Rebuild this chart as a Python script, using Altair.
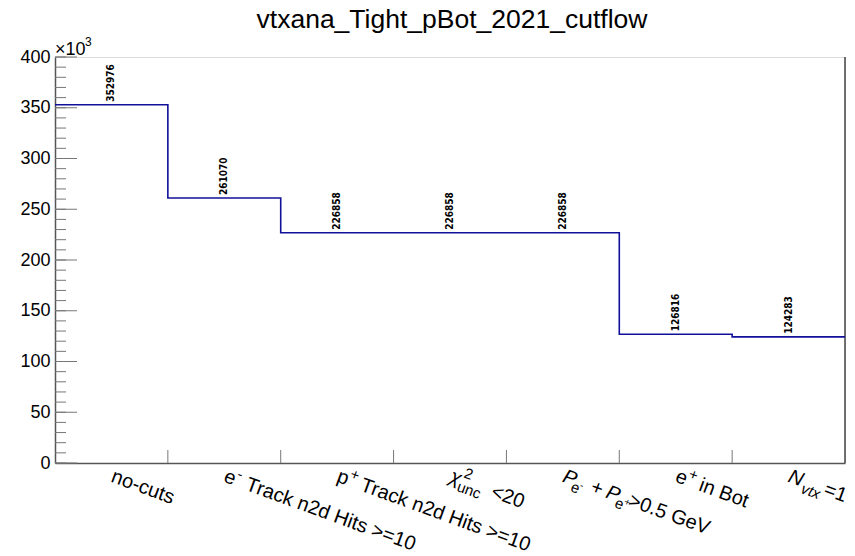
import altair as alt
import pandas as pd

# ---- data ----
categories = ["no-cuts", "e- Track n2d Hits >=10", "p+ Track n2d Hits >=10",
              "chi2_unc<20", "P_e- + P_e+>0.5 GeV", "e+ in Bot", "N_vtx=1"]
counts = [352976, 261070, 226858, 226858, 226858, 126816, 124283]
y_tick_values = list(range(0, 400001, 50000))
y_minor_values = list(range(0, 400001, 10000))
title_text = "vtxana_Tight_pBot_2021_cutflow"

W, H = 790, 406
FONT = "Liberation Sans"
F, S, T = 20, 15, 10

xscale = alt.Scale(domain=[0, len(categories)], nice=False, zero=False)
yscale = alt.Scale(domain=[0, 400000], nice=False)

# step-line points at bin edges
edges = list(range(len(categories) + 1))
step_df = pd.DataFrame({"edge": edges, "count": counts + [counts[-1]]})
center_df = pd.DataFrame({"c": [i + 0.5 for i in range(len(categories))],
                          "count": counts})

step = alt.Chart(step_df).mark_line(
    interpolate="step-after", color="#10109a", strokeWidth=1.6
).encode(
    x=alt.X("edge:Q", scale=xscale,
            axis=alt.Axis(labels=False, ticks=False, grid=False, title=None,
                          domainColor="#555555", domainWidth=1.5)),
    y=alt.Y("count:Q", scale=yscale,
            axis=alt.Axis(values=y_tick_values, labelExpr="datum.value/1000",
                          ticks=False, grid=False, title=None,
                          labelFont=FONT, labelFontSize=18, labelColor="black",
                          labelPadding=5, domainColor="#555555", domainWidth=1.5)),
)

values_txt = alt.Chart(center_df).mark_text(
    angle=270, align="left", baseline="middle", dx=3,
    font="'DejaVu Sans Condensed', 'Liberation Sans'", fontWeight="bold",
    fontSize=10, color="black"
).encode(
    x=alt.X("c:Q", scale=xscale),
    y=alt.Y("count:Q", scale=yscale),
    text=alt.Text("count:Q", format="d"),
)

# ticks
minor_df = pd.DataFrame({"v": y_minor_values})
major_df = pd.DataFrame({"v": y_tick_values})
xt_df = pd.DataFrame({"e": edges[1:-1]})
minor_ticks = alt.Chart(minor_df).mark_rule(color="#777777", strokeWidth=1).encode(
    y=alt.Y("v:Q", scale=yscale), x=alt.value(0), x2=alt.value(11))
major_ticks = alt.Chart(major_df).mark_rule(color="#777777", strokeWidth=1).encode(
    y=alt.Y("v:Q", scale=yscale), x=alt.value(0), x2=alt.value(22))
x_ticks = alt.Chart(xt_df).mark_rule(color="#777777", strokeWidth=1).encode(
    x=alt.X("e:Q", scale=xscale), y=alt.value(H), y2=alt.value(H - 13))
right_frame = alt.Chart(pd.DataFrame({"e": [edges[-1]]})).mark_rule(
    color="#444444", strokeWidth=1.5).encode(
    x=alt.X("e:Q", scale=xscale), y=alt.value(0), y2=alt.value(H))

# x labels as rich text pieces: (category index, text, dx, dy, size, style)
BX, BY = 5, 18
pieces = [
    (0, "no-cuts", 0, 0, F, "normal"),
    (1, "e", 0, 0, F, "normal"), (1, "-", 11.5, -8, S, "normal"),
    (1, "Track n2d Hits >=10", 23, 0, F, "normal"),
    (2, "p", 0, 0, F, "normal"), (2, "+", 11.5, -8, S, "normal"),
    (2, "Track n2d Hits >=10", 25, 0, F, "normal"),
    (3, "χ", 0, 0, F, "italic"), (3, "2", 12, -9, S, "normal"),
    (3, "unc", 10, 6, S, "normal"), (3, "<20", 44, 0, F, "normal"),
    (4, "P", 0, 0, F, "italic"), (4, "e", 11, 6, S, "normal"),
    (4, "-", 19, 0, T, "normal"), (4, "+", 30, 0, F, "normal"),
    (4, "P", 46, 0, F, "italic"), (4, "e", 58, 6, S, "normal"),
    (4, "+", 66, 0, T, "normal"), (4, ">0.5 GeV", 70, 0, F, "normal"),
    (5, "e", 0, 0, F, "normal"), (5, "+", 11.5, -8, S, "normal"),
    (5, "in Bot", 25, 0, F, "normal"),
    (6, "N", 0, 0, F, "italic"), (6, "vtx", 16, 6, S, "italic"),
    (6, "=1", 38, 0, F, "normal"),
]
label_layers = []
for idx, txt, dx, dy, size, style in pieces:
    d = pd.DataFrame({"c": [idx + 0.5], "z": [0], "t": [txt]})
    label_layers.append(
        alt.Chart(d).mark_text(
            angle=20, align="left", baseline="alphabetic",
            dx=BX + dx, dy=BY + dy, fontSize=size, fontStyle=style,
            font=FONT, color="black"
        ).encode(x=alt.X("c:Q", scale=xscale), y=alt.Y("z:Q", scale=yscale),
                 text="t:N")
    )

# x10^3 exponent marker and title
top_df = pd.DataFrame({"c": [0], "m": [len(categories) / 2], "v": [400000],
                       "t": ["×10"], "s": ["3"], "ti": [title_text]})
exp1 = alt.Chart(top_df).mark_text(
    align="left", baseline="alphabetic", dx=0, dy=-2, fontSize=18, font=FONT, color="black"
).encode(x=alt.X("c:Q", scale=xscale), y=alt.Y("v:Q", scale=yscale), text="t:N")
exp2 = alt.Chart(top_df).mark_text(
    align="left", baseline="alphabetic", dx=30, dy=-11, fontSize=12, font=FONT, color="black"
).encode(x=alt.X("c:Q", scale=xscale), y=alt.Y("v:Q", scale=yscale), text="s:N")
title = alt.Chart(top_df).mark_text(
    align="center", baseline="alphabetic", dx=2, dy=-29, fontSize=26.5, font=FONT, color="black"
).encode(x=alt.X("m:Q", scale=xscale), y=alt.Y("v:Q", scale=yscale), text="ti:N")

chart = alt.layer(
    minor_ticks, major_ticks, x_ticks, right_frame, step, values_txt,
    exp1, exp2, title, *label_layers
).properties(
    width=W, height=H,
    autosize=alt.AutoSizeParams(type="none"),
    padding={"left": 55, "top": 57, "right": 10, "bottom": 93},
).configure_view(
    stroke="#9a9a9a", strokeWidth=1.5
).configure(background="white")

chart.save("out.html", embed_options={"renderer": "svg", "actions": False})
